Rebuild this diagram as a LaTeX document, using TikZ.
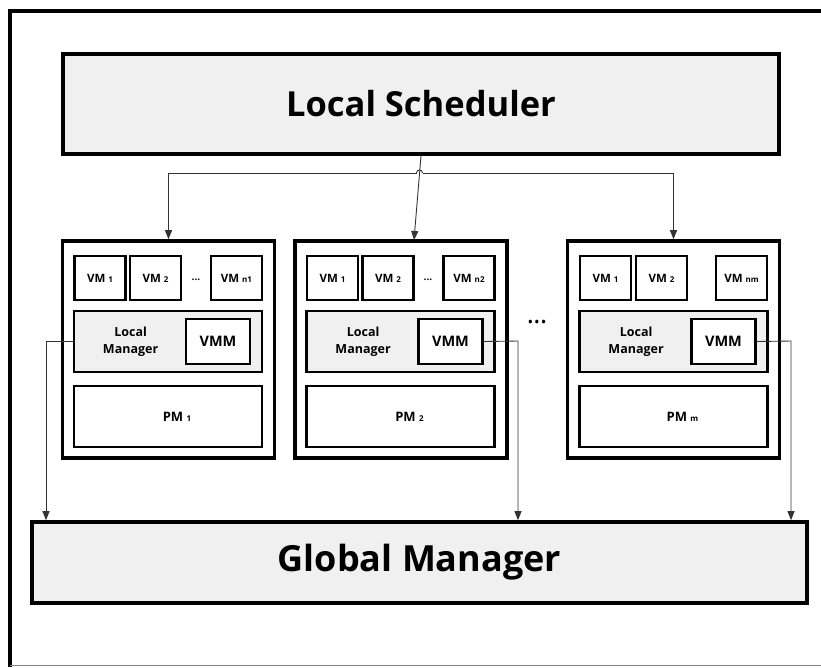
\documentclass[tikz,border=0pt]{standalone}
\usepackage{fontspec}
\setmainfont{Open Sans}
\usetikzlibrary{arrows.meta}
\definecolor{panel}{HTML}{F0F0F0}
\definecolor{wire}{HTML}{333333}
\tikzset{
  heavybox/.style={draw=black, line width=3.6pt, rectangle, inner sep=0pt},
  bigbox/.style={heavybox, fill=panel},
  hostbox/.style={heavybox, fill=white, minimum width=212pt, minimum height=217pt},
  vmbox/.style={draw=black, line width=2.8pt, fill=white, rectangle, inner sep=0pt,
    minimum width=51pt, minimum height=44pt, font=\bfseries\fontsize{11.5}{13}\selectfont},
  lmbox/.style={draw=black, line width=2.8pt, fill=panel, rectangle, inner sep=0pt,
    minimum width=188pt, minimum height=61pt},
  vmmbox/.style={draw=black, line width=2.8pt, fill=white, rectangle, inner sep=0pt,
    minimum width=64pt, minimum height=45pt, font=\bfseries\fontsize{14.5}{16}\selectfont},
  pmbox/.style={draw=black, line width=2.8pt, fill=white, rectangle, inner sep=0pt,
    minimum width=188pt, minimum height=61pt},
  lmlabel/.style={align=center, font=\bfseries\fontsize{12.5}{17}\selectfont, inner sep=0pt},
  pmlabel/.style={font=\bfseries\fontsize{13}{15}\selectfont, inner sep=0pt},
  wirearrow/.style={draw=wire, line width=0.9pt, -{Triangle[length=9pt,width=7pt]}},
  smalldots/.style={font=\bfseries\fontsize{10}{12}\selectfont, inner sep=0pt},
}
\newcommand{\idx}[1]{\fontsize{8}{9}\selectfont #1}
\begin{document}
\begin{tikzpicture}[x=1pt, y=-1pt]
\useasboundingbox (0,0) rectangle (821,667);
% outer frame (its right side lies beyond the picture)
\draw[line width=4pt] (10,667) -- (10,11) -- (821,11);
\draw[gray, line width=1.2pt] (10,665.5) -- (821,665.5);

% scheduler and global manager
\node[bigbox, minimum width=716pt, minimum height=100pt,
  font=\bfseries\fontsize{34.5}{38}\selectfont] (sched) at (421,104) {Local Scheduler};
\node[bigbox, minimum width=775pt, minimum height=81pt,
  font=\bfseries\fontsize{36}{40}\selectfont] (gm) at (419.5,562.5) {Global Manager};

% physical machines
\foreach \n/\cx/\lx/\vmone/\vmtwo/\vmlast/\lastid/\pmid in
  {1/168.5/168/100/155.5/236.5/n1/1,
   2/401/400.5/332.5/388/469/n2/2,
   3/673.5/673.5/605.5/661.5/741.5/nm/m}{
  \node[hostbox] (host\n) at (\cx,349.5) {};
  \node[vmbox] (vma\n) at (\vmone,278) {VM \idx{1}};
  \node[vmbox] (vmb\n) at (\vmtwo,278) {VM \idx{2}};
  \node[vmbox] (vmc\n) at (\vmlast,278) {VM \idx{\lastid}};
  \node[lmbox] (lm\n) at (\lx,341.5) {};
  \node[lmlabel, anchor=center] (lmt\n) at ([xshift=58pt]lm\n.west) {Local\\Manager};
  \node[vmmbox] (vmm\n) at ([xshift=50pt]lm\n.center) {VMM};
  \node[pmbox] (pmb\n) at (\lx,416.5) {};
  \node[pmlabel] (pmt\n) at ([xshift=9pt]pmb\n.center) {PM \idx{\pmid}};
}
\node[smalldots] (dotsa) at (196,280) {...};
\node[smalldots] (dotsb) at (428,280) {...};
\node[font=\fontsize{15}{16}\selectfont, inner sep=0pt] (hostdots) at (537,324) {•\hspace{1pt}•\hspace{1pt}•};

% scheduler to hosts
\coordinate (hopL) at (416.5,173);
\coordinate (hopR) at (422.5,173);
\draw[wirearrow] (sched.south) -- (414,240) coordinate (midtip);
\draw[wirearrow] (hopL) -- (host1.north |- hopL) -- (host1.north);
\draw[wirearrow] (hopR) -- (host3.north |- hopR) -- (host3.north);
\draw[draw=wire, line width=0.9pt] (hopL) arc[start angle=180, end angle=0, radius=3pt];

% local managers to global manager
\coordinate (bendA) at (46,341.5);
\coordinate (bendB) at (518,341);
\coordinate (bendC) at (791,341);
\draw[wirearrow] (lm1.west) -- (bendA) -- (bendA |- gm.north);
\draw[wirearrow] (vmm2.east) -- (bendB) -- (bendB |- gm.north);
\draw[wirearrow] (vmm3.east) -- (bendC) -- (bendC |- gm.north);
\end{tikzpicture}
\end{document}
